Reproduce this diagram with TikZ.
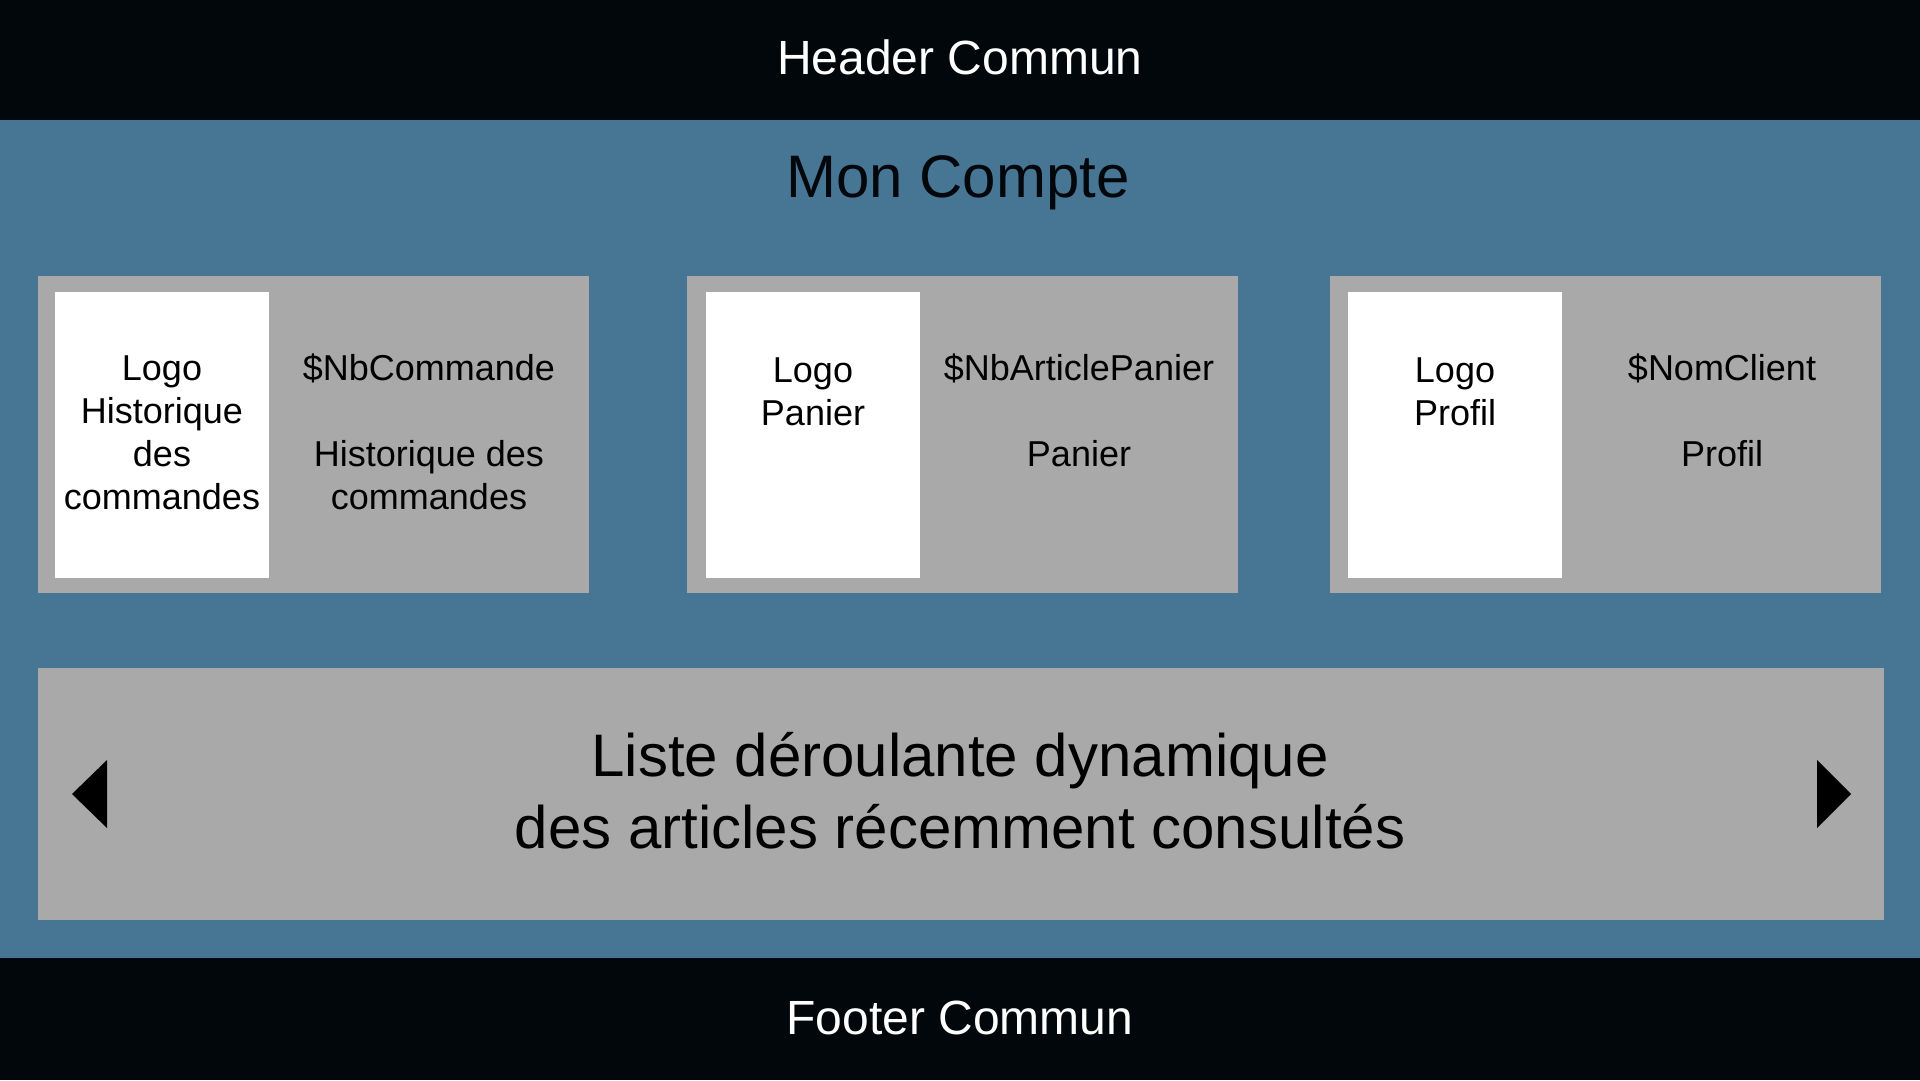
\documentclass[tikz,border=0pt]{standalone}
\usepackage{fontspec}
\setmainfont{Liberation Sans}
\definecolor{bandcol}{HTML}{02070B}
\definecolor{bgblue}{HTML}{477594}
\definecolor{panelgray}{HTML}{A9A9A9}
\begin{document}
\begin{tikzpicture}[x=1pt,y=-1pt,
  panel/.style={fill=panelgray,draw=none},
  logobox/.style={fill=white,draw=none},
  cardtxt/.style={font=\fontsize{36}{43}\selectfont,align=center,inner sep=0pt,text=black},
  bandtxt/.style={font=\fontsize{48}{58}\selectfont,text=white,inner sep=0pt},
  bigtxt/.style={font=\fontsize{60}{72}\selectfont,align=center,inner sep=0pt,text=black},
  arrowtri/.style={fill=black,draw=none}]
\useasboundingbox (0,0) rectangle (1920,1080);
\fill[bgblue] (0,0) rectangle (1920,1080);
\fill[bandcol] (0,0) rectangle (1920,120);
\fill[bandcol] (0,958) rectangle (1920,1080);
\node[bandtxt] (header) at (960,57) {Header Commun};
\node[bandtxt] (footer) at (960,1018) {Footer Commun};
\node[bigtxt,text=bandcol] (title) at (958,183) {Mon Compte};
% card 1
\fill[panel] (38,276) rectangle (589,593);
\fill[logobox] (55,292) rectangle (269,578);
\node[cardtxt] (logo1) at (162,433) {Logo\\Historique\\des\\commandes};
\node[cardtxt] (info1) at (429,432) {\$NbCommande\\[43pt]Historique des\\commandes};
% card 2
\fill[panel] (687,276) rectangle (1238,593);
\fill[logobox] (706,292) rectangle (920,578);
\node[cardtxt] (logo2) at (813,392) {Logo\\Panier};
\node[cardtxt] (info2) at (1079,410) {\$NbArticlePanier\\[43pt]Panier};
% card 3
\fill[panel] (1330,276) rectangle (1881,593);
\fill[logobox] (1348,292) rectangle (1562,578);
\node[cardtxt] (logo3) at (1455,392) {Logo\\Profil};
\node[cardtxt] (info3) at (1722,410) {\$NomClient\\[43pt]Profil};
% carousel
\fill[panel] (38,668) rectangle (1884,920);
\node[bigtxt] (carousel) at (960,791) {Liste déroulante dynamique\\des articles récemment consultés};
\fill[arrowtri] (107,760) -- (72,794) -- (107,828) -- cycle;
\fill[arrowtri] (1817,760) -- (1851,794) -- (1817,828) -- cycle;
\end{tikzpicture}
\end{document}
